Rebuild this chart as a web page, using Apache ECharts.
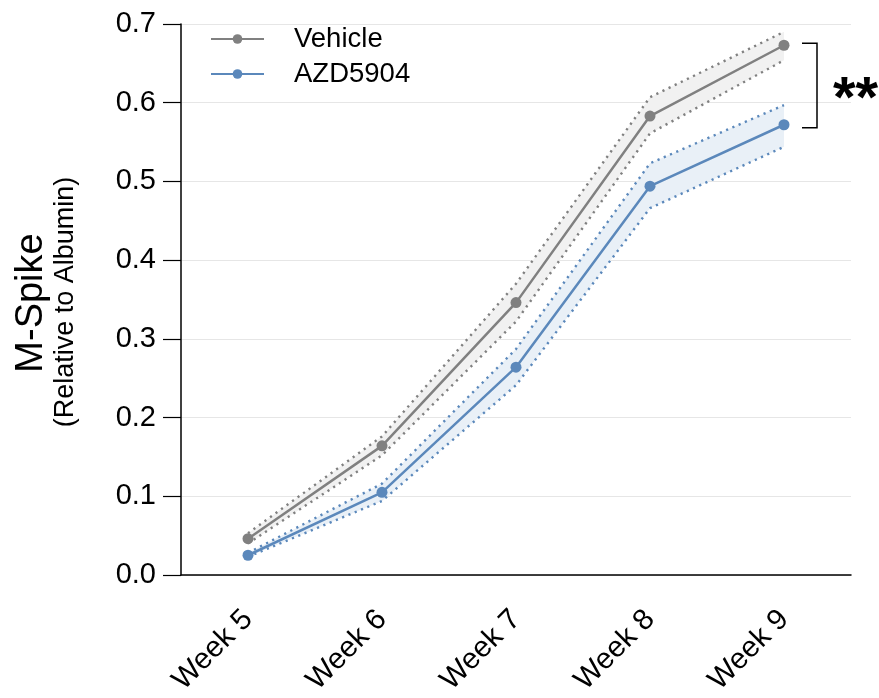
<!DOCTYPE html>
<html><head><meta charset="utf-8">
<script src="https://cdn.jsdelivr.net/npm/echarts@6/dist/echarts.min.js"></script>
<style>html,body{margin:0;padding:0;background:#fff}#c{width:879px;height:698px}</style>
</head><body><div id="c"></div>
<script>
const categories = ['Week 5', 'Week 6', 'Week 7', 'Week 8', 'Week 9'];
const vehicleMean  = [0.046, 0.164, 0.346, 0.583, 0.673];
const vehicleUpper = [0.053, 0.176, 0.370, 0.607, 0.690];
const vehicleLower = [0.040, 0.152, 0.322, 0.561, 0.654];
const azdMean  = [0.025, 0.105, 0.264, 0.494, 0.572];
const azdUpper = [0.028, 0.116, 0.287, 0.523, 0.597];
const azdLower = [0.023, 0.094, 0.241, 0.466, 0.544];
const yMin = 0, yMax = 0.7, yStep = 0.1;
const seriesNames = ['Vehicle', 'AZD5904'];
const yTitle = 'M-Spike', ySubTitle = '(Relative to Albumin)';
const sigLabel = '**';

const FONT = "'Liberation Sans', Arial, sans-serif";
const GRAY = '#808080', BLUE = '#5b88bb';
const GRAY_FILL = '#f1f1f1', BLUE_FILL = '#e9f0f7';

function diff(a, b) { return a.map((v, i) => +(v - b[i]).toFixed(4)); }

function bandBase(stack, data) {
  return { type: 'line', stack: stack, data: data, symbol: 'none', silent: true,
    lineStyle: { opacity: 0 }, z: 1 };
}
function bandFill(stack, data, color) {
  return { type: 'line', stack: stack, data: data, symbol: 'none', silent: true,
    lineStyle: { opacity: 0 }, areaStyle: { color: color, opacity: 1 }, z: 1 };
}
function dotted(data, color) {
  return { type: 'line', data: data, symbol: 'none', silent: true, z: 2,
    lineStyle: { color: color, width: 2.4, type: [2.2, 4.6] } };
}
function mean(name, data, color) {
  return { name: name, type: 'line', data: data, symbol: 'circle', symbolSize: 11, z: 3,
    itemStyle: { color: color }, lineStyle: { color: color, width: 2.5 } };
}

const chart = echarts.init(document.getElementById('c'));
chart.setOption({
  animation: false,
  backgroundColor: '#fff',
  textStyle: { fontFamily: FONT },
  grid: { left: 181, right: 28, top: 24, bottom: 121 },
  legend: {
    data: seriesNames, orient: 'vertical', left: 210, top: 25, padding: 0,
    itemWidth: 53, itemHeight: 12, itemGap: 7,
    textStyle: { fontSize: 27.5, color: '#000', fontFamily: FONT, padding: [0, 0, 0, 25] }
  },
  xAxis: {
    type: 'category', data: categories, boundaryGap: true,
    axisLine: { lineStyle: { color: '#000', width: 1.5 } },
    axisTick: { alignWithLabel: true, length: 18, lineStyle: { color: '#000', width: 1.2 } },
    axisLabel: { rotate: 45, margin: 40, fontSize: 29.5, color: '#000', fontFamily: FONT }
  },
  yAxis: {
    type: 'value', min: yMin, max: yMax, interval: yStep,
    axisLine: { show: true, lineStyle: { color: '#000', width: 1.5 } },
    axisTick: { show: true, length: 18, lineStyle: { color: '#000', width: 1.2 } },
    axisLabel: { fontSize: 29, color: '#000', margin: 25, fontFamily: FONT,
      formatter: v => v.toFixed(1) },
    splitLine: { show: true, lineStyle: { color: '#e6e6e6', width: 1 } }
  },
  series: [
    bandBase('vb', vehicleLower),
    bandFill('vb', diff(vehicleUpper, vehicleLower), GRAY_FILL),
    bandBase('ab', azdLower),
    bandFill('ab', diff(azdUpper, azdLower), BLUE_FILL),
    dotted(vehicleUpper, GRAY),
    dotted(vehicleLower, GRAY),
    dotted(azdUpper, BLUE),
    dotted(azdLower, BLUE),
    mean(seriesNames[0], vehicleMean, GRAY),
    mean(seriesNames[1], azdMean, BLUE)
  ]
});

const last = categories.length - 1;
const pTop = chart.convertToPixel({ gridIndex: 0 }, [last, vehicleMean[last]]);
const pBot = chart.convertToPixel({ gridIndex: 0 }, [last, azdMean[last]]);
const bx = pTop[0] + 33, y1 = pTop[1] - 2, y2 = pBot[1] + 3;
chart.setOption({
  graphic: [
    { type: 'text', x: 32, y: 303, rotation: Math.PI / 2,
      style: { text: yTitle, font: '38px ' + FONT, fill: '#000', align: 'center', verticalAlign: 'middle' } },
    { type: 'text', x: 66, y: 302, rotation: Math.PI / 2,
      style: { text: ySubTitle, font: '27px ' + FONT, fill: '#000', align: 'center', verticalAlign: 'middle' } },
    { type: 'polyline', shape: { points: [[bx - 15, y1], [bx, y1], [bx, y2], [bx - 15, y2]] },
      style: { stroke: '#000', lineWidth: 1.5, fill: null } },
    { type: 'text', x: bx + 16, y: (y1 + y2) / 2 + 16,
      style: { text: sigLabel, font: 'bold 58px ' + FONT, fill: '#000', align: 'left', verticalAlign: 'middle' } }
  ]
});
</script>
</body></html>
